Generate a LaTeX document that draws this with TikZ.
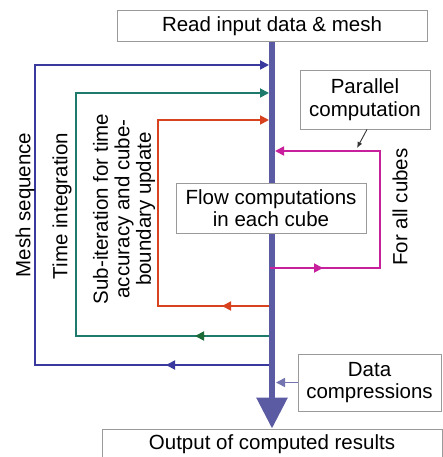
\documentclass[tikz,border=0pt]{standalone}
\usepackage{fontspec}
\setmainfont{Liberation Sans}
\usetikzlibrary{arrows.meta}
\definecolor{barc}{HTML}{5B5BA3}
\definecolor{blu}{HTML}{3A3A9E}
\definecolor{tea}{HTML}{1E7A6C}
\definecolor{grn}{HTML}{1A6B38}
\definecolor{rd}{HTML}{D8421E}
\definecolor{mag}{HTML}{C8209C}
\definecolor{dc}{HTML}{7474B0}
\definecolor{bord}{HTML}{9A9A9A}
\begin{document}
\begin{tikzpicture}[x=1pt,y=-1pt,
  box/.style={draw=bord, line width=0.9pt, fill=white, align=center, inner sep=0pt,
              font=\fontsize{20.5}{22.5}\selectfont},
  lbl/.style={align=center, rotate=90, inner sep=0pt, font=\fontsize{20.5}{21.5}\selectfont},
  lp/.style={line width=1.8pt, line join=miter},
  tip/.style={-{Triangle[length=9pt,width=9pt]}}]
\useasboundingbox (0,0) rectangle (442,457);

% boxes
\node[box, minimum width=310pt, minimum height=31pt] (top) at (272,26) {Read input data \& mesh};
\node[box, minimum width=340pt, minimum height=31pt] (bot) at (272,444.5) {Output of computed results};
\node[box, minimum width=130pt, minimum height=59pt] (par) at (365,99.5) {Parallel\\computation};
\node[box, minimum width=143pt, minimum height=57pt] (data) at (369.5,382.5) {Data\\compressions};

% coordinates on the bar
\coordinate (bt1) at (269,65);
\coordinate (bt2) at (269,93);
\coordinate (bt3) at (269,120);
\coordinate (bm1) at (275,151);
\coordinate (bm2) at (270,268);
\coordinate (bb3) at (272,306);
\coordinate (bb2) at (272,336);
\coordinate (bb1) at (272,365);
\coordinate (bd) at (276,382.5);
\coordinate (pm) at (357,148);

% blue loop
\draw[blu, lp, tip] (bb1) -- (35,365) -- (35,65) -- (bt1);
\draw[blu, lp, tip] (176,365) -- (166,365);
% teal loop
\draw[tea, lp, tip] (bb2) -- (76,336) -- (76,93) -- (bt2);
\draw[grn, lp, tip] (205,336) -- (195,336);
% red loop
\draw[rd, lp, tip] (bb3) -- (158,306) -- (158,120) -- (bt3);
\draw[rd, lp, tip] (232,306) -- (222,306);

% main bar
\draw[barc, line width=6pt, -{Triangle[length=31pt,width=30pt]}] (top.south) -- (bot.north);

% magenta loop
\draw[mag, lp, tip] (bm2) -- (380,268) -- (380,151) -- (bm1);
\draw[mag, lp, tip] (313,268) -- (323,268);

% flow box on top of bar
\node[box, minimum width=190pt, minimum height=50pt] (flow) at (271,208) {Flow computations\\in each cube};

% small arrows
\draw[black!80, line width=0.9pt, -{Latex[length=6pt,width=5pt]}] ([xshift=2pt]par.south) -- (pm);
\draw[dc, line width=1.6pt, -{Triangle[length=9pt,width=9pt]}] (data.west) -- (bd);

% rotated labels
\node[lbl] (ms) at (25,205) {Mesh sequence};
\node[lbl] (ti) at (62,206) {Time integration};
\node[lbl] (si) at (124,209) {Sub-iteration for time\\accuracy and cube-\\boundary update};
\node[lbl] (fc) at (400,207) {For all cubes};
\end{tikzpicture}
\end{document}
